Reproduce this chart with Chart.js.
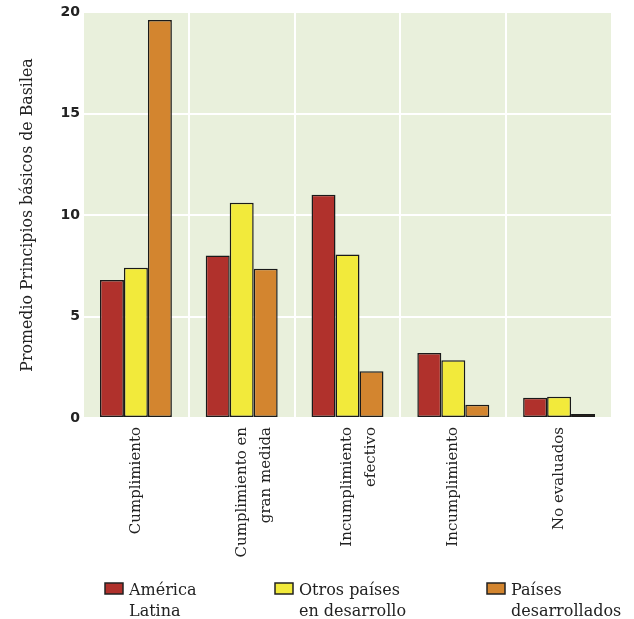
<!DOCTYPE html>
<html>
<head>
<meta charset="utf-8">
<script src="https://cdn.jsdelivr.net/npm/chart.js@4.4.1/dist/chart.umd.min.js"></script>
<style>
    html, body { margin: 0; padding: 0; background: #ffffff; }
    #wrap { width: 634px; height: 619px; position: relative; }
</style>
</head>
<body>
<div id="wrap"><canvas id="basileaChart" width="634" height="619"></canvas></div>
<script>
let categories = [
    "Cumplimiento",
    ["Cumplimiento en", "gran medida"],
    ["Incumplimiento", "efectivo"],
    "Incumplimiento",
    "No evaluados"
];
let seriesNames = [["América", "Latina"], ["Otros países", "en desarrollo"], ["Países", "desarrollados"]];
let americaLatina = [6.8, 8.0, 11.0, 3.2, 1.0];
let otrosPaises = [7.4, 10.6, 8.05, 2.85, 1.05];
let paisesDesarrollados = [19.6, 7.35, 2.3, 0.65, 0.2];
let yTicks = [0, 5, 10, 15, 20];
let barColors = ["#b0312c", "#f2ea3b", "#d3852f"];

let fontFamily = "'DejaVu Serif', 'Liberation Serif', serif";

// fondo verde del area del grafico
const plotBackground = {
    id: "plotBackground",
    beforeDraw: function (chart) {
        let a = chart.chartArea;
        let ctx = chart.ctx;
        ctx.save();
        ctx.fillStyle = "#e9f0dc";
        ctx.fillRect(a.left, a.top, a.right - a.left, a.bottom - a.top);
        ctx.restore();
    }
};

// leyenda con etiquetas de dos lineas
const bottomLegend = {
    id: "bottomLegend",
    afterDraw: function (chart) {
        let ctx = chart.ctx;
        let xs = [105, 275, 487];
        ctx.save();
        ctx.font = "16px " + fontFamily;
        ctx.textBaseline = "alphabetic";
        chart.data.datasets.forEach(function (ds, i) {
            ctx.fillStyle = ds.backgroundColor;
            ctx.strokeStyle = "#222";
            ctx.lineWidth = 1.5;
            ctx.fillRect(xs[i], 583, 18, 11);
            ctx.strokeRect(xs[i], 583, 18, 11);
            ctx.fillStyle = "#222";
            seriesNames[i].forEach(function (line, j) {
                ctx.fillText(line, xs[i] + 24, 595 + j * 21);
            });
        });
        ctx.restore();
    }
};

new Chart("basileaChart", {
    type: "bar",
    data: {
        labels: categories,
        datasets: [
            { label: seriesNames[0].join(" "), data: americaLatina, backgroundColor: barColors[0] },
            { label: seriesNames[1].join(" "), data: otrosPaises, backgroundColor: barColors[1] },
            { label: seriesNames[2].join(" "), data: paisesDesarrollados, backgroundColor: barColors[2] }
        ].map(function (d) {
            d.borderColor = "#1a1a1a";
            d.borderWidth = 1.5;
            d.borderSkipped = false;
            d.categoryPercentage = 0.68;
            d.barPercentage = 1.0;
            return d;
        })
    },
    options: {
        responsive: false,
        animation: false,
        devicePixelRatio: 1,
        layout: { padding: { top: 12, right: 22, left: 0, bottom: 0 } },
        plugins: {
            legend: { display: false },
            tooltip: { enabled: false }
        },
        scales: {
            x: {
                offset: true,
                grid: { color: "#ffffff", lineWidth: 2, offset: true, drawTicks: false },
                border: { display: false },
                ticks: {
                    maxRotation: 90,
                    minRotation: 90,
                    padding: 9,
                    color: "#222",
                    font: { family: fontFamily, size: 15, lineHeight: 1.6 }
                },
                afterFit: function (scale) { scale.height = 201; }
            },
            y: {
                min: 0,
                max: 20,
                afterBuildTicks: function (scale) {
                    scale.ticks = yTicks.map(v => ({ value: v }));
                },
                grid: { color: "#ffffff", lineWidth: 2, drawTicks: false },
                border: { display: false },
                ticks: {
                    padding: 3,
                    color: "#222",
                    font: { family: "'DejaVu Sans', sans-serif", size: 14, weight: "bold" }
                },
                title: {
                    display: true,
                    text: "Promedio Principios básicos de Basilea",
                    color: "#222",
                    font: { family: fontFamily, size: 15.8 },
                    padding: { top: 18, bottom: 0 }
                },
                afterFit: function (scale) { scale.width = 83; }
            }
        }
    },
    plugins: [plotBackground, bottomLegend]
});
</script>
</body>
</html>
